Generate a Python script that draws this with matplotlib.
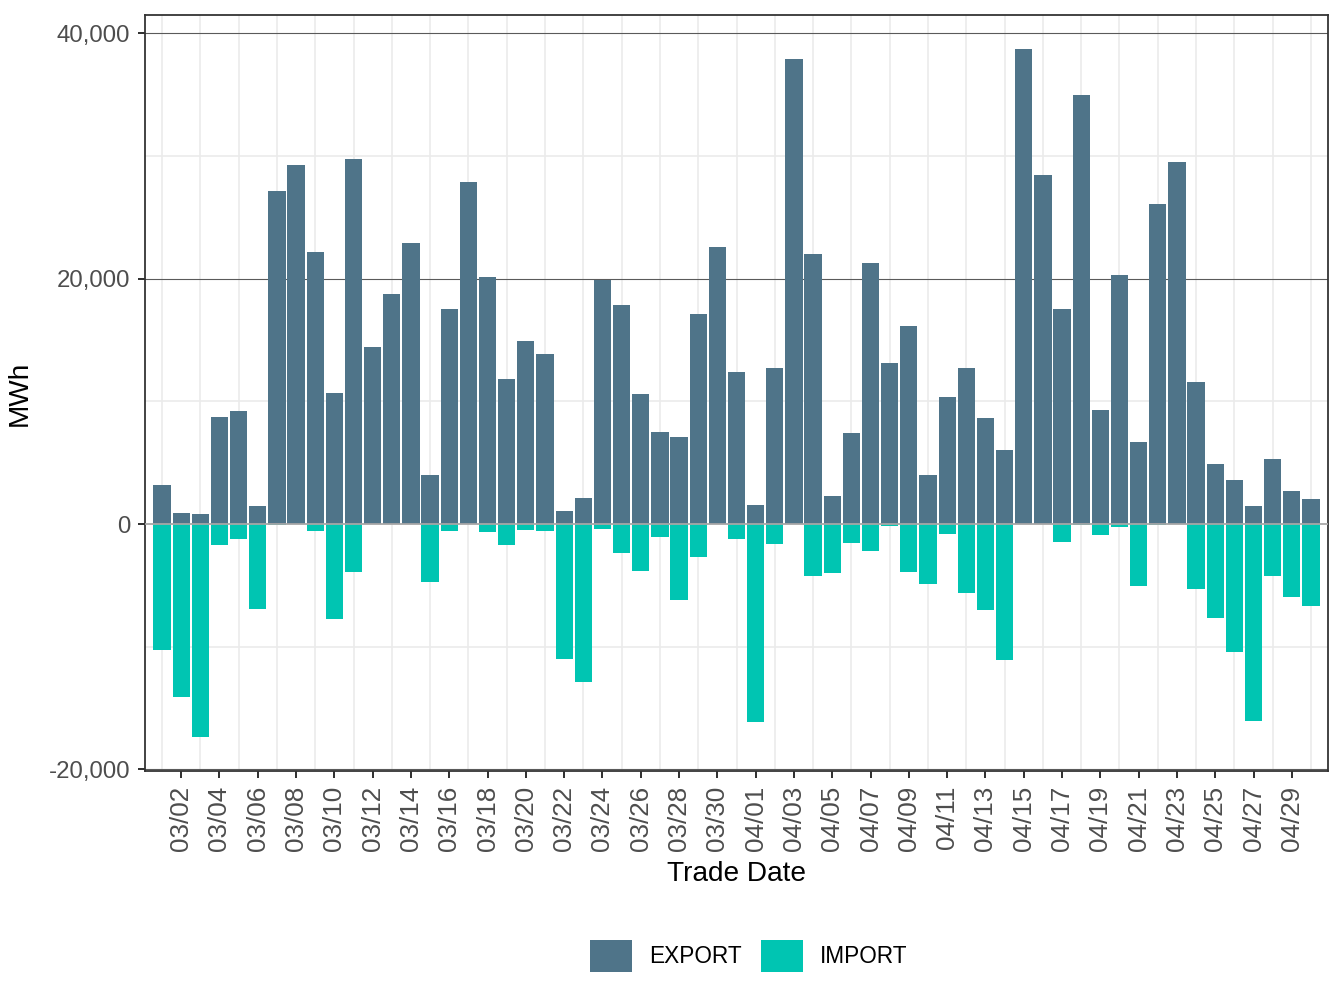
import matplotlib
matplotlib.use("Agg")
import matplotlib.pyplot as plt
from matplotlib.patches import Patch
import numpy as np
import pandas as pd

plt.rcParams['font.family'] = ['Liberation Sans', 'DejaVu Sans']

dates = pd.date_range('2021-03-01', '2021-04-30', freq='D')
date_labels = [d.strftime('%m/%d') for d in dates]

export_mwh = [3159, 869, 790, 8766, 9240, 1500, 27167, 29299, 22192, 10701,
              29773, 14452, 18796, 22942, 4028, 17572, 27917, 20178, 11846, 14887,
              13899, 1027, 2093, 19862, 17887, 10622, 7542, 7068, 17137, 22547,
              12359, 1579, 12754, 37947, 22034, 2251, 7384, 21244, 13149, 16111,
              4028, 10385, 12754, 8608, 6002, 38737, 28470, 17572, 34985, 9319,
              20336, 6713, 26101, 29536, 11609, 4857, 3633, 1500, 5331, 2725,
              2014]
import_mwh = [-10267, -14097, -17335, -1698, -1224, -6910, -60, 0, -553, -7739,
              -3909, 0, 0, 0, -4738, -553, 0, -632, -1698, -474,
              -553, -11017, -12873, -395, -2369, -3830, -1066, -6199, -2685, 0,
              -1224, -16111, -1619, 0, -4225, -3988, -1540, -2211, -158, -3909,
              -4896, -829, -5607, -6989, -11056, 0, 0, -1461, -60, -908,
              -237, -5054, -40, 0, -5291, -7660, -10424, -16032, -4225, -5962,
              -6673]

export_color = '#4F7489'
import_color = '#00C5B2'

fig = plt.figure(figsize=(1344 / 144, 1008 / 144), dpi=144)
ax = fig.add_axes([145 / 1344, (1008 - 771) / 1008, (1328 - 145) / 1344, (771 - 15) / 1008])

x = np.arange(len(dates))
ax.bar(x, export_mwh, width=0.9, color=export_color, zorder=3)
ax.bar(x, import_mwh, width=0.9, color=import_color, zorder=3)

ax.set_xlim(-0.888, len(dates) - 1 + 0.888)
ax.set_ylim(-20130, 41500)

# grid lines, ggplot style
for xv in x[::2]:
    ax.axvline(xv, color='#ebebeb', lw=0.8, zorder=1)
for yv in [-10000, 10000, 30000]:
    ax.axhline(yv, color='#ebebeb', lw=0.8, zorder=1)
for yv in [-20000, 20000, 40000]:
    ax.axhline(yv, color='#5a5a5a', lw=0.55, zorder=2)
ax.axhline(0, color='#a6a6a6', lw=0.9, zorder=4)

ax.set_xticks(x[1::2])
ax.set_xticklabels(date_labels[1::2], rotation=90, fontsize=13, color='#4d4d4d')
ax.set_yticks([-20000, 0, 20000, 40000])
ax.set_yticklabels(['-20,000', '0', '20,000', '40,000'], fontsize=12, color='#4d4d4d')
ax.tick_params(length=3.5, width=1.0, color='#333333', pad=4)

for s in ax.spines.values():
    s.set_color('#333333')
    s.set_linewidth(0.9)

ax.set_xlabel('Trade Date', fontsize=14, labelpad=5)
ax.set_ylabel('MWh', fontsize=14, labelpad=8)

handles = [Patch(facecolor=export_color, label='EXPORT'),
           Patch(facecolor=import_color, label='IMPORT')]
fig.legend(handles=handles, loc='center', bbox_to_anchor=(749 / 1344, 1 - 956 / 1008),
           ncol=2, frameon=False, fontsize=11.3, handlelength=1.86, handleheight=1.86,
           handletextpad=0.75, columnspacing=0.84)

fig.savefig('out.png', dpi=144)
